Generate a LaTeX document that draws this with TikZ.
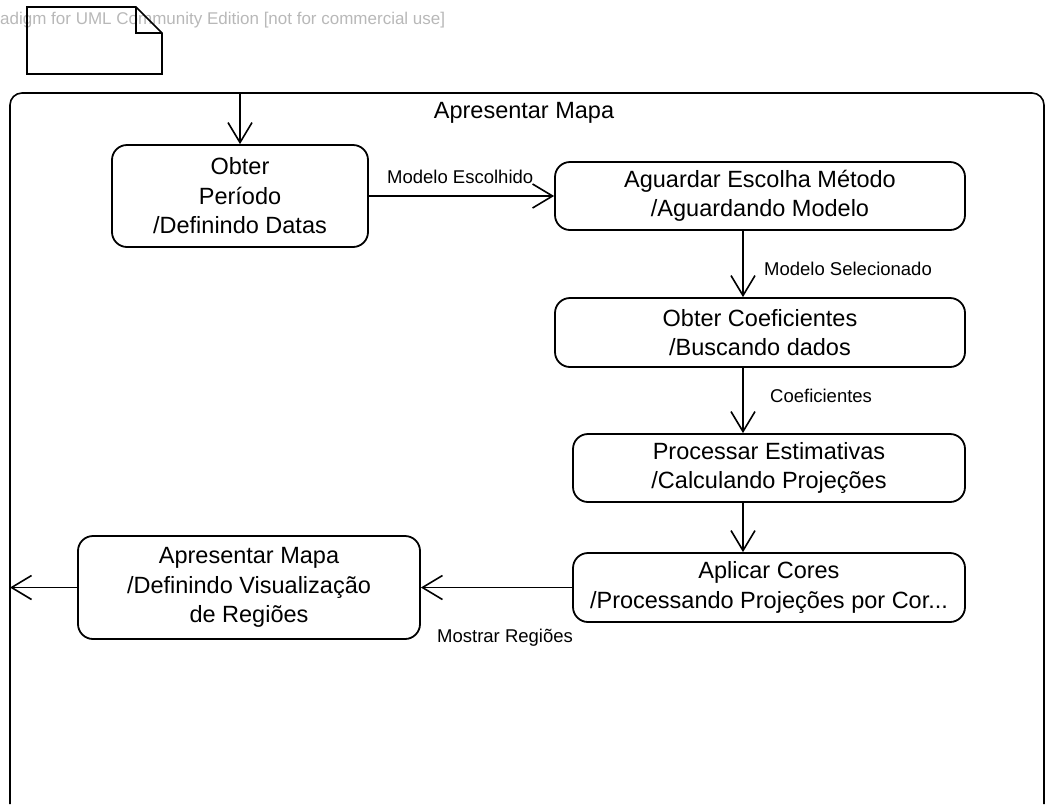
\documentclass[tikz,border=0pt]{standalone}
\usepackage{fontspec}
\setmainfont{Liberation Sans}
\usetikzlibrary{arrows.meta}
\definecolor{wmgray}{HTML}{B8B8B8}
\begin{document}
\begin{tikzpicture}[x=1pt,y=-1pt,
  state/.style={draw, line width=1.8pt, rounded corners=15pt, align=center, inner sep=0pt, font=\fontsize{23.5}{29.5}\selectfont},
  trans/.style={line width=1.6pt, -{Straight Barb[length=20pt,width=24pt,line width=1.6pt]}},
  lbl/.style={font=\fontsize{18.5}{22}\selectfont, inner sep=0pt, anchor=base west},
  frameline/.style={line width=1.6pt},
]
\useasboundingbox (0,0) rectangle (1046,804);
% watermark
\node[anchor=base west, text=wmgray, font=\fontsize{17}{20}\selectfont, inner sep=0pt] (wm) at (0,24) {adigm for UML Community Edition [not for commercial use]};
% note icon
\draw[frameline] (27,7) -- (136,7) -- (162,33) -- (162,74) -- (27,74) -- cycle;
\draw[frameline] (136,7) -- (136,33) -- (162,33);
% composite state frame
\draw[frameline, rounded corners=12pt] (10,804) -- (10,93) -- (1044,93) -- (1044,804);
\node[anchor=base, font=\fontsize{23.5}{29.5}\selectfont, inner sep=0pt] (title) at (524,118) {Apresentar Mapa};
\coordinate (init) at (240,93);
\coordinate (exit) at (10,587.5);
\coordinate (ax) at (743,0);
% states
\node[state, minimum width=256pt, minimum height=102pt] (obter) at (240,196) {Obter\\Período\\/Definindo Datas};
\node[state, minimum width=410pt, minimum height=68pt] (aguardar) at (760,196) {Aguardar Escolha Método\\/Aguardando Modelo};
\node[state, minimum width=410pt, minimum height=69pt] (coef) at (760,332.5) {Obter Coeficientes\\/Buscando dados};
\node[state, minimum width=392pt, minimum height=68pt] (proc) at (769,468) {Processar Estimativas\\/Calculando Projeções};
\node[state, minimum width=392pt, minimum height=69pt] (cores) at (769,587.5) {Aplicar Cores\\/Processando Projeções por Cor...};
\node[state, minimum width=342pt, minimum height=103pt] (mapa) at (249,587.5) {Apresentar Mapa\\/Definindo Visualização\\de Regiões};
% transitions
\draw[trans] (init) -- (obter.north);
\draw[trans] (obter.east) -- (aguardar.west);
\draw[trans] (aguardar.south -| ax) -- (coef.north -| ax);
\draw[trans] (coef.south -| ax) -- (proc.north -| ax);
\draw[trans] (proc.south -| ax) -- (cores.north -| ax);
\draw[trans] (cores.west) -- (mapa.east);
\draw[trans] (mapa.west) -- (exit);
% labels
\node[lbl] (l1) at (387,183) {Modelo Escolhido};
\node[lbl] (l2) at (764,275) {Modelo Selecionado};
\node[lbl] (l3) at (770,402) {Coeficientes};
\node[lbl] (l4) at (437,642) {Mostrar Regiões};
\end{tikzpicture}
\end{document}
